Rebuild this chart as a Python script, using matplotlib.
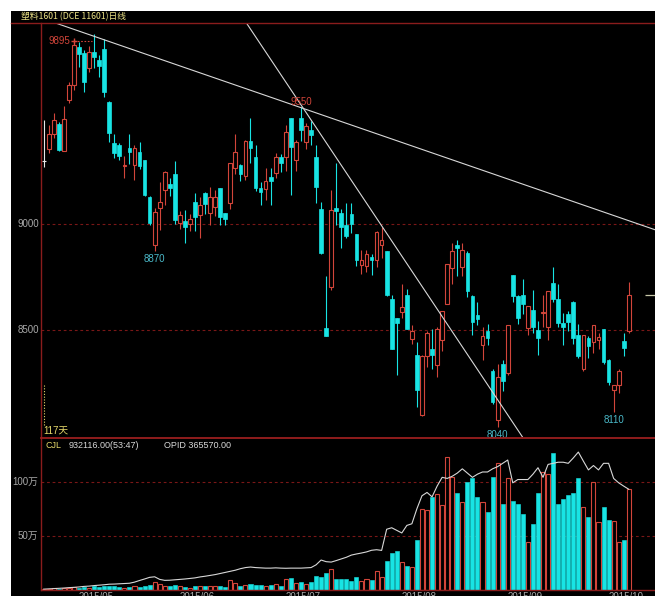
import matplotlib
matplotlib.use('Agg')
import matplotlib.pyplot as plt
from matplotlib.patches import Rectangle
from matplotlib.lines import Line2D
from matplotlib.transforms import offset_copy, blended_transform_factory

plt.rcParams['font.family'] = ['Noto Sans CJK SC', 'DejaVu Sans']

# ---------------- data ----------------
title = '塑料1601 (DCE 11601)日线'
opens = [9297, 9352, 9421, 9469, 9344, 9584, 9653, 9834, 9806, 9732,
         9810, 9771, 9821, 9575, 9378, 9369, 9271, 9356, 9275, 9338,
         9300, 9126, 8899, 9072, 9158, 9186, 9236, 9001, 9013, 9000,
         9103, 9040, 9142, 9048, 9077, 9166, 9048, 9095, 9260, 9278,
         9223, 9390, 9315, 9166, 9161, 9218, 9237, 9315, 9315, 9497,
         9301, 9496, 9386, 9441, 9315, 9067, 8507, 8700, 9072, 9052,
         8992, 9043, 8952, 8806, 8802, 8842, 8828, 8897, 8871, 8645,
         8554, 8583, 8665, 8456, 8382, 8095, 8373, 8407, 8335, 8450,
         8622, 8789, 8897, 8794, 8863, 8657, 8567, 8425, 8494, 8305,
         8073, 8339, 8296, 8755, 8657, 8662, 8507, 8592, 8497, 8579,
         8514, 8720, 8645, 8531, 8571, 8631, 8476, 8313, 8459, 8442,
         8449, 8502, 8356, 8215, 8236, 8445, 8493]
highs = [9490, 9464, 9520, 9481, 9554, 9670, 9865, 9858, 9818, 9839,
         9895, 9795, 9869, 9576, 9421, 9378, 9318, 9424, 9369, 9386,
         9301, 9129, 9073, 9197, 9249, 9215, 9297, 9060, 9064, 9043,
         9146, 9126, 9150, 9172, 9160, 9167, 9052, 9287, 9424, 9283,
         9395, 9498, 9369, 9198, 9261, 9261, 9335, 9326, 9464, 9498,
         9395, 9550, 9476, 9486, 9369, 9103, 8752, 9158, 9284, 9069,
         9095, 9095, 8952, 8875, 8875, 8854, 8966, 8983, 8871, 8665,
         8554, 8713, 8691, 8519, 8442, 8382, 8494, 8502, 8510, 8588,
         8811, 8906, 8923, 8910, 8871, 8665, 8631, 8511, 8528, 8313,
         8339, 8356, 8519, 8755, 8665, 8737, 8610, 8686, 8541, 8665,
         8682, 8794, 8713, 8579, 8588, 8634, 8528, 8476, 8468, 8519,
         8485, 8502, 8360, 8236, 8313, 8485, 8725]
lows = [9266, 9335, 9404, 9344, 9340, 9567, 9630, 9740, 9622, 9716,
        9732, 9692, 9595, 9386, 9310, 9301, 9215, 9283, 9206, 9258,
        9129, 8995, 8870, 8969, 9086, 9129, 9000, 8974, 8908, 8966,
        8966, 8930, 9043, 8992, 9034, 8992, 8992, 9069, 9232, 9201,
        9206, 9287, 9155, 9086, 9112, 9086, 9215, 9241, 9249, 9134,
        9249, 9390, 9352, 9369, 9097, 8858, 8468, 8686, 8992, 8885,
        8931, 8957, 8802, 8760, 8772, 8755, 8794, 8837, 8657, 8408,
        8284, 8554, 8502, 8433, 8136, 8090, 8322, 8313, 8274, 8399,
        8622, 8717, 8751, 8751, 8652, 8476, 8519, 8356, 8425, 8150,
        8040, 8210, 8287, 8631, 8528, 8571, 8476, 8485, 8382, 8511,
        8451, 8631, 8511, 8428, 8493, 8433, 8365, 8305, 8365, 8390,
        8408, 8339, 8236, 8110, 8201, 8373, 8485]
closes = [9297, 9421, 9490, 9349, 9493, 9653, 9842, 9798, 9666, 9807,
          9787, 9744, 9622, 9425, 9335, 9318, 9278, 9338, 9357, 9270,
          9134, 9001, 9056, 9103, 9244, 9166, 9016, 9040, 8982, 9021,
          9032, 9087, 9092, 9126, 9124, 9029, 9022, 9287, 9339, 9232,
          9390, 9356, 9166, 9150, 9202, 9202, 9315, 9284, 9433, 9362,
          9386, 9441, 9460, 9417, 9173, 8859, 8468, 9064, 9060, 8983,
          8940, 9000, 8828, 8828, 8854, 8828, 8961, 8923, 8662, 8408,
          8531, 8605, 8502, 8493, 8215, 8373, 8485, 8382, 8502, 8588,
          8811, 8871, 8885, 8875, 8683, 8537, 8548, 8468, 8459, 8158,
          8274, 8257, 8519, 8657, 8554, 8622, 8610, 8511, 8459, 8583,
          8682, 8645, 8531, 8511, 8536, 8459, 8373, 8476, 8421, 8519,
          8463, 8347, 8253, 8236, 8305, 8411, 8665]
# volume (万手)
volumes = [0.8, 1.0, 1.2, 1.0, 1.5, 2.0, 2.5, 2.0, 2.5, 2.0,
           3.0, 2.5, 3.5, 3.0, 3.0, 2.5, 2.0, 2.5, 3.5, 2.5,
           3.5, 4.0, 7.5, 5.5, 3.0, 3.5, 4.0, 3.0, 2.5, 2.0,
           3.0, 3.5, 3.0, 3.5, 3.0, 3.5, 2.5, 9.0, 6.0, 3.0,
           4.5, 5.5, 4.0, 4.5, 3.5, 4.0, 5.0, 3.5, 9.5, 11.0,
           6.0, 7.5, 5.0, 7.0, 13.0, 11.5, 15.0, 19.4, 10.0, 9.6,
           9.6, 7.7, 11.7, 8.0, 9.9, 9.3, 17.0, 12.0, 27.0, 34.0,
           36.0, 26.0, 21.6, 21.0, 45.7, 75.0, 73.5, 86.0, 89.0, 78.0,
           123.0, 104.0, 90.0, 81.0, 100.0, 103.0, 86.0, 81.0, 72.0, 104.0,
           117.0, 79.0, 103.0, 82.0, 79.0, 70.0, 44.0, 61.0, 89.5, 109.0,
           107.0, 126.5, 79.0, 84.0, 88.0, 90.0, 103.0, 77.0, 67.0, 100.0,
           63.0, 77.0, 65.0, 64.0, 44.0, 46.0, 93.0]
# open interest (万手)
open_interest = [0.2, 0.3, 0.4, 0.5, 0.6, 0.75, 0.85, 1.0, 1.2, 1.3,
                 1.5, 1.65, 1.8, 2.0, 2.05, 2.15, 2.25, 2.35, 2.75, 3.35,
                 3.9, 4.5, 4.7, 3.75, 3.4, 3.45, 3.6, 3.75, 3.9, 4.1,
                 4.3, 4.65, 4.9, 5.2, 5.5, 5.9, 6.3, 6.7, 7.1, 7.65,
                 8.05, 8.25, 8.05, 7.95, 7.85, 7.85, 7.95, 7.85, 7.8, 7.85,
                 7.85, 7.85, 7.95, 8.05, 9.05, 10.8, 10.2, 10.05, 10.6, 11.2,
                 11.8, 12.6, 13.0, 13.35, 13.75, 14.35, 14.55, 14.3, 22.0, 22.55,
                 21.6, 20.65, 23.4, 24.0, 29.5, 34.2, 35.4, 33.8, 37.7, 40.9,
                 40.5, 41.3, 42.45, 44.0, 42.45, 40.9, 42.05, 42.85, 42.85, 44.0,
                 44.8, 46.0, 47.2, 38.9, 40.1, 40.1, 40.1, 42.05, 44.4, 40.9,
                 45.6, 46.0, 46.4, 46.4, 46.0, 47.95, 50.1, 46.8, 43.6, 45.2,
                 43.6, 46.0, 46.0, 40.5, 38.9, 37.7, 36.557]
month_labels = ['2015/05', '2015/06', '2015/07', '2015/08', '2015/09', '2015/10']
month_start_idx = [12, 32, 53, 76, 97, 117]
price_ticks = [9000, 8500]
vol_ticks = [100, 50]
vol_tick_labels = ['100万', '50万']
high_label = '9895'
low_labels = [(22, '8870'), (90, '8040'), (113, '8110')]
peak_labels = [(51, '9550')]
# trend lines as (candle index, price) anchor pairs
trend_lines = [((2.58, 9944), (120.8, 8974)),
               ((40.25, 9944), (94.9, 7994))]
info_cjl = '932116.00(53:47)'
info_opid = 'OPID 365570.00'
days_text = '117天'

# ---------------- style ----------------
W, H = 655, 596
RED = '#d2453a'
CYAN = '#18e4e4'
GRID = '#7a1717'
BORDER = '#8a1c1c'
TXT = '#a8a8a8'
YEL = '#e6d86a'

fig = plt.figure(figsize=(W / 100, H / 100), dpi=100, facecolor='white')
fig.patches.append(Rectangle((11 / W, 0), (W - 11) / W, (H - 11) / H,
                             transform=fig.transFigure, facecolor='black',
                             edgecolor='none', zorder=-10))


def rect(l, t, r, b):
    return [l / W, 1 - b / H, (r - l) / W, (b - t) / H]


def fline(x0, y0, x1, y1, **kw):
    fig.add_artist(Line2D([x0 / W, x1 / W], [1 - y0 / H, 1 - y1 / H],
                          transform=fig.transFigure, zorder=20, **kw))


n = len(opens)
xs = list(range(n))
xlim = (-0.535, 121.2)

# ---------- price panel ----------
ax = fig.add_axes(rect(41, 23, 655, 437))
ax.set_facecolor('none')
ax.set_xlim(*xlim)
ax.set_ylim(7993, 9946)
for s in ax.spines.values():
    s.set_visible(False)
ax.set_xticks([])
ax.set_yticks([])

for p in price_ticks:
    ax.axhline(p, color=GRID, lw=0.8, ls=(0, (2.5, 2.5)), zorder=1)
    ax.text(-2 / 614, p, str(p), transform=ax.get_yaxis_transform(),
            ha='right', va='center', fontsize=7, color=TXT,
            family='Liberation Sans')

bw = 0.74
for i in xs:
    o, h, l, c = opens[i], highs[i], lows[i], closes[i]
    top, bot = max(o, c), min(o, c)
    if c > o:
        ax.vlines(i, top, h, color=RED, lw=0.8, zorder=3)
        ax.vlines(i, l, bot, color=RED, lw=0.8, zorder=3)
        ax.add_patch(Rectangle((i - bw / 2, bot), bw, top - bot, facecolor='black',
                               edgecolor=RED, lw=0.8, zorder=3))
    elif c < o:
        ax.vlines(i, l, h, color=CYAN, lw=0.8, zorder=3)
        ax.add_patch(Rectangle((i - bw / 2, bot), bw, max(top - bot, 4),
                               facecolor=CYAN, edgecolor=CYAN, lw=0.5, zorder=3))
    else:
        ax.vlines(i, l, h, color='#e8e8e8', lw=0.8, zorder=3)
        ax.hlines(c, i - bw / 2, i + bw / 2, color='#e8e8e8', lw=0.8, zorder=3)

for (x0, y0), (x1, y1) in trend_lines:
    k = (y1 - y0) / (x1 - x0)
    xa, xb = -5, 130
    ax.plot([xa, xb], [y0 + k * (xa - x0), y0 + k * (xb - x0)],
            color='#d8d8d8', lw=0.8, zorder=4)

# highest-price marker
imax = max(xs, key=lambda i: highs[i])
down = offset_copy(ax.transData, fig=fig, x=0, y=-7, units='dots')
ax.plot([6, imax - 0.4], [highs[imax]] * 2, color=RED, lw=0.8,
        ls=(0, (1.5, 1.5)), transform=down, zorder=5)
ax.plot([6], [highs[imax]], marker='+', color=RED, ms=5, mew=1.0,
        transform=down, zorder=5)
ax.text(5.2, highs[imax], high_label, transform=down, ha='right', va='center',
        fontsize=7, color=RED, family='Liberation Sans', zorder=5)
for i, lab in peak_labels:
    ax.annotate(lab, (i, highs[i]), xytext=(0, 0), textcoords='offset points',
                ha='center', va='bottom', fontsize=7, color=RED,
                family='Liberation Sans', zorder=5)
for i, lab in low_labels:
    ax.annotate(lab, (i, lows[i]), xytext=(0, -2), textcoords='offset points',
                ha='center', va='top', fontsize=7, color='#4ab8c8',
                family='Liberation Sans', zorder=5)

# last price marker at right edge
ax.hlines(closes[-1], 119.2, 121.2, color='#c8c8a8', lw=0.9, zorder=5)

# ---------- volume panel ----------
axv = fig.add_axes(rect(41, 437, 655, 590))
axv.set_facecolor('none')
axv.set_xlim(*xlim)
vlo, vhi = -0.28, 141.4
axv.set_ylim(vlo, vhi)
for s in axv.spines.values():
    s.set_visible(False)
axv.set_xticks([])
axv.set_yticks([])
for v, lab in zip(vol_ticks, vol_tick_labels):
    axv.axhline(v, color=GRID, lw=0.8, ls=(0, (2.5, 2.5)), zorder=1)
    axv.text(-3 / 614, v, lab, transform=axv.get_yaxis_transform(),
             ha='right', va='center', fontsize=7, color=TXT,
             family=['Liberation Sans', 'Noto Sans CJK SC'])

vw = 0.8
for i in xs:
    up = closes[i] >= opens[i]
    if up:
        axv.add_patch(Rectangle((i - vw / 2, 0), vw, volumes[i], facecolor='black',
                                edgecolor=RED, lw=0.8, zorder=3))
    else:
        axv.add_patch(Rectangle((i - vw / 2, 0), vw, volumes[i], facecolor=CYAN,
                                edgecolor=CYAN, lw=0.4, zorder=3))

axo = fig.add_axes(rect(41, 437, 655, 590))
axo.set_facecolor('none')
axo.set_xlim(*xlim)
k_oi = open_interest[-1] / 93.0
axo.set_ylim(vlo * k_oi, vhi * k_oi)
axo.axis('off')
axo.plot(xs, open_interest, color='#d8d8d8', lw=0.8, zorder=4)

# info texts
fig.text(45 / W, 1 - 445 / H, 'CJL', color=YEL, fontsize=6.5,
         family='Liberation Sans', va='center', ha='left')
fig.text(68.5 / W, 1 - 445 / H, info_cjl, color='#d8d8d8', fontsize=6.5,
         family='Liberation Sans', va='center', ha='left')
fig.text(164 / W, 1 - 445 / H, info_opid, color='#d8d8d8', fontsize=6.5,
         family='Liberation Sans', va='center', ha='left')
fig.text(43 / W, 1 - 431 / H, days_text, color=YEL, fontsize=7,
         family=['Liberation Sans', 'Noto Sans CJK SC'], va='center', ha='left')
fline(44, 385, 44, 426, color=YEL, lw=0.8, ls=(0, (1, 1.5)))

# title
fig.text(21 / W, 1 - 17 / H, title, color='#ece286', fontsize=6.3,
         va='center', ha='left')

# month labels (partly cut at bottom, as in the reference)
tr = offset_copy(blended_transform_factory(axv.transData, fig.transFigure),
                 fig=fig, x=-8, y=0, units='dots')
for idx, lab in zip(month_start_idx, month_labels):
    axv.text(idx, 1 - 592 / H, lab, transform=tr, ha='center', va='top',
             fontsize=7, color=TXT, family='Liberation Sans', clip_on=False)

# borders
fline(11, 23, 655, 23, color=BORDER, lw=1.0)
fline(41, 23, 41, 590, color=BORDER, lw=1.0)
fline(41, 437.5, 655, 437.5, color='#9a1e1e', lw=1.3)
fline(41, 590, 655, 590, color=BORDER, lw=1.0)

fig.savefig('out.png', dpi=100, facecolor=fig.get_facecolor())
